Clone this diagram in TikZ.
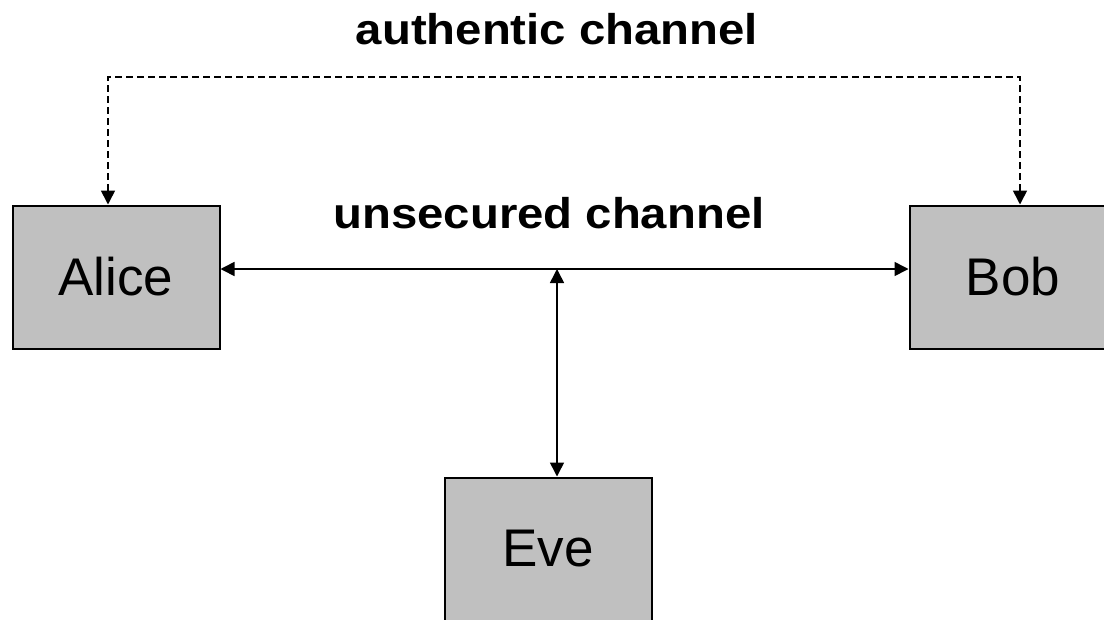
\documentclass[tikz,border=0pt]{standalone}
\usepackage{fontspec}
\usepackage{graphicx}
\setmainfont{Liberation Sans}
\usetikzlibrary{arrows.meta}
\definecolor{boxgray}{HTML}{C0C0C0}
\newcommand{\widelabel}[1]{\scalebox{1.1}[1]{\bfseries\fontsize{43}{50}\selectfont #1}}
\begin{document}
\begin{tikzpicture}[x=1pt,y=-1pt,
  party/.style={draw=black, line width=2pt, fill=boxgray, minimum width=207pt, minimum height=143pt, inner sep=0pt, font=\fontsize{53}{60}\selectfont},
  chanlabel/.style={inner sep=0pt, anchor=base},
  solidconn/.style={line width=1.6pt, {Triangle[length=14pt,width=14pt]}-{Triangle[length=14pt,width=14pt]}},
  dashconn/.style={line width=1.6pt, dash pattern=on 7pt off 4pt, {Triangle[length=14pt,width=14pt]}-{Triangle[length=14pt,width=14pt]}}]
\useasboundingbox (0,0) rectangle (1104,619);
\clip (0,0) rectangle (1104,619);
\node[party] (alice) at (116,277) {Alice};
\node[party] (bob) at (1013,277) {Bob};
\node[party] (eve) at (548,549) {Eve};
\node[chanlabel] (auth) at (557,44) {\widelabel{authentic channel}};
\node[chanlabel] (unsec) at (549,228) {\widelabel{unsecured channel}};
\coordinate (aA) at (108,77);
\coordinate (aB) at (1020,77);
\coordinate (mid) at (557,269);
\draw[dashconn] (aA |- alice.north) -- (aA) -- (aB) -- (aB |- bob.north);
\draw[solidconn] ([yshift=8pt]alice.east) -- ([yshift=8pt]bob.west);
\draw[solidconn] (mid) -- (mid |- eve.north);
\end{tikzpicture}
\end{document}
